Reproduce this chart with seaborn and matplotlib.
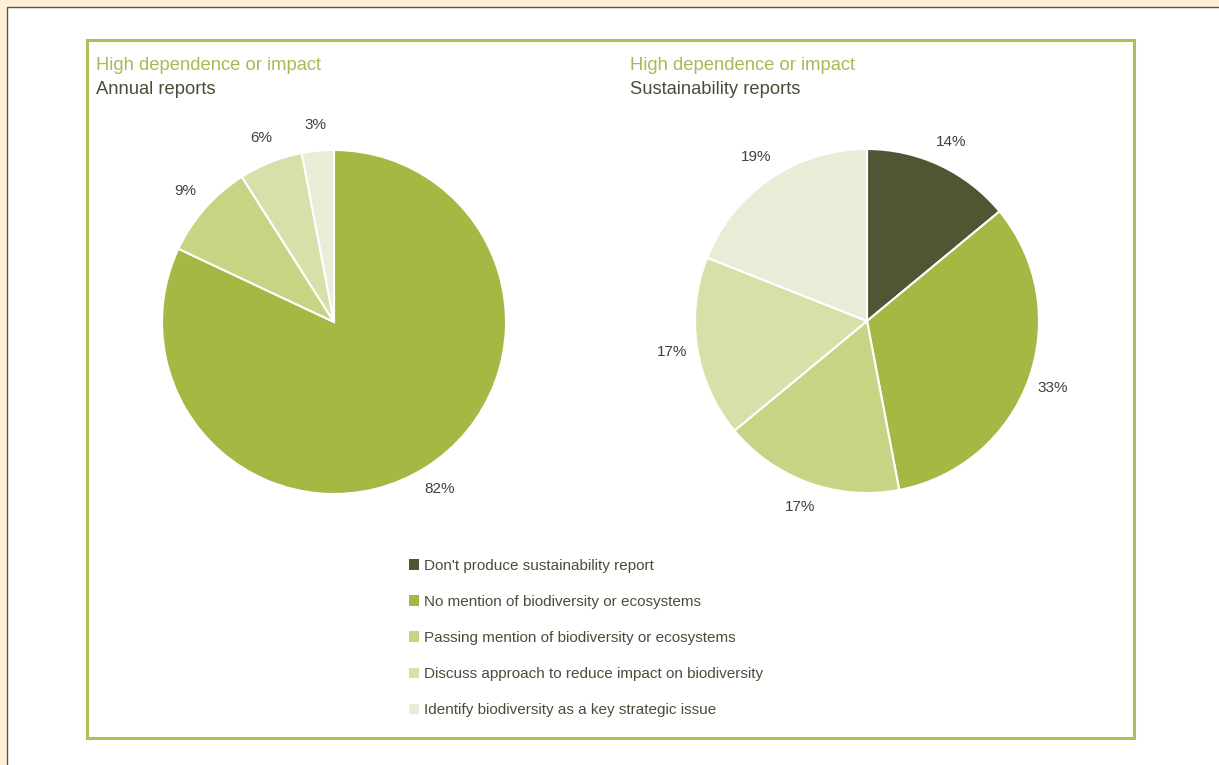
import matplotlib.pyplot as plt
import matplotlib.patches as mpatches
import seaborn as sns

# data
categories = [
    "Don't produce sustainability report",
    "No mention of biodiversity or ecosystems",
    "Passing mention of biodiversity or ecosystems",
    "Discuss approach to reduce impact on biodiversity",
    "Identify biodiversity as a key strategic issue",
]
annual = [0, 82, 9, 6, 3]
sustainability = [14, 33, 17, 17, 19]
titles = ["Annual reports", "Sustainability reports"]
supertitle = "High dependence or impact"

colors = ["#4f5634", "#a4b844", "#c7d483", "#d8e0aa", "#e9ecd6"]

sns.set_theme(style="white")
plt.rcParams['font.family'] = ['Liberation Sans', 'DejaVu Sans']

W, H = 1219, 765
fig = plt.figure(figsize=(W / 100, H / 100), dpi=100, facecolor="#fdf0d6")


def px(x0, y0, x1, y1):
    # pixel box (top-left origin) -> figure fraction rect
    return [x0 / W, 1 - y1 / H, (x1 - x0) / W, (y1 - y0) / H]


# white page and green frame
fig.patches.append(mpatches.Rectangle((7 / W, -0.1), 1, 1.1 - 7 / H, transform=fig.transFigure,
                                      facecolor="white", edgecolor="#555555", lw=1, zorder=-5))
fig.patches.append(mpatches.Rectangle((87 / W, 1 - 738 / H), (1134 - 87) / W, (738 - 40) / H,
                                      transform=fig.transFigure, facecolor="none",
                                      edgecolor="#a9c15a", lw=2.2, zorder=-4))

pies = [
    (annual, (334, 322), 96),
    (sustainability, (867, 321), 630),
]
r = 172
for (vals, (cx, cy), tx), title in zip(pies, titles):
    ax = fig.add_axes(px(cx - r, cy - r, cx + r, cy + r))
    ax.patch.set_alpha(0)
    keep = [i for i, v in enumerate(vals) if v > 0]
    ax.pie([vals[i] for i in keep], colors=[colors[i] for i in keep],
           labels=[f"{vals[i]}%" for i in keep], labeldistance=1.15,
           startangle=90, counterclock=False,
           wedgeprops=dict(edgecolor="white", linewidth=1.5),
           textprops=dict(fontsize=11, color="#404040", ha="center", va="center"))
    ax.set_xlim(-1, 1)
    ax.set_ylim(-1, 1)
    ax.set_aspect("equal")
    ax.axis("off")
    fig.text(tx / W, 1 - 65 / H, supertitle, fontsize=13.2, color="#a3bd55", va="center")
    fig.text(tx / W, 1 - 90 / H, title, fontsize=13.2, color="#4a4d38", va="center")

handles = [mpatches.Patch(facecolor=c, edgecolor="none", label=l) for c, l in zip(colors, categories)]
fig.legend(handles=handles, loc="upper left", bbox_to_anchor=(395 / W, 1 - 545 / H),
           frameon=False, fontsize=11, labelcolor="#4a4d38",
           handlelength=0.7, handleheight=0.7, handletextpad=0.3, labelspacing=1.45)

fig.savefig("out.png", dpi=100, facecolor=fig.get_facecolor())
